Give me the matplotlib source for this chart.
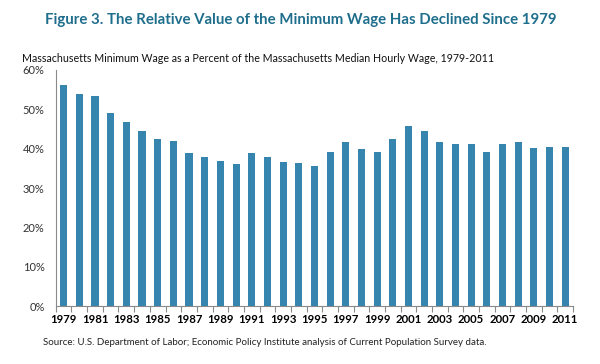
import matplotlib.pyplot as plt
import numpy as np

years = list(range(1979, 2012))
values = [56.2, 53.9, 53.3, 49.0, 46.7, 44.4, 42.4, 42.0, 38.8, 37.8,
          36.9, 36.1, 38.8, 38.0, 36.5, 36.3, 35.7, 39.1, 41.6, 39.9,
          39.1, 42.4, 45.8, 44.4, 41.6, 41.2, 41.2, 39.1, 41.3, 41.8,
          40.2, 40.3, 40.3]
yticks = [0, 10, 20, 30, 40, 50, 60]

plt.rcParams['font.family'] = ['Lato', 'DejaVu Sans']

fig = plt.figure(figsize=(6, 3.64), dpi=100)
ax = fig.add_axes([0.093, 0.159, 0.862, 0.649])

x = np.arange(len(years))
ax.bar(x, values, width=0.45, color='#3585AE')

ax.set_xlim(-0.5, len(years) - 0.5)
ax.set_ylim(0, 60)

# tick marks at category boundaries, labels every other year
ax.set_xticks(np.arange(-0.5, len(years), 1.0))
ax.set_xticklabels([])
ax.tick_params(axis='x', which='major', length=4, color='#8a8a8a', direction='out')
ax.set_xticks(x[::2], minor=True)
ax.set_xticklabels([str(y) for y in years[::2]], minor=True,
                   fontsize=8.2, fontweight='bold')
ax.tick_params(axis='x', which='minor', length=0, pad=6)

ax.set_yticks(yticks)
ax.set_yticklabels([f'{v}%' for v in yticks], fontsize=8, color='#333333')
ax.tick_params(axis='y', length=0, pad=8)

for s in ['top', 'right']:
    ax.spines[s].set_visible(False)
for s in ['left', 'bottom']:
    ax.spines[s].set_color('#8a8a8a')
    ax.spines[s].set_linewidth(0.8)

fig.text(0.502, 0.945, 'Figure 3. The Relative Value of the Minimum Wage Has Declined Since 1979',
         ha='center', va='center', fontsize=10.8, fontweight='bold', color='#1F6E8C')
fig.text(0.037, 0.84, 'Massachusetts Minimum Wage as a Percent of the Massachusetts Median Hourly Wage, 1979-2011',
         ha='left', va='center', fontsize=7.7, color='#111111')
fig.text(0.072, 0.058, 'Source: U.S. Department of Labor; Economic Policy Institute analysis of Current Population Survey data.',
         ha='left', va='center', fontsize=7, color='#222222')

fig.savefig('out.png', dpi=100)
